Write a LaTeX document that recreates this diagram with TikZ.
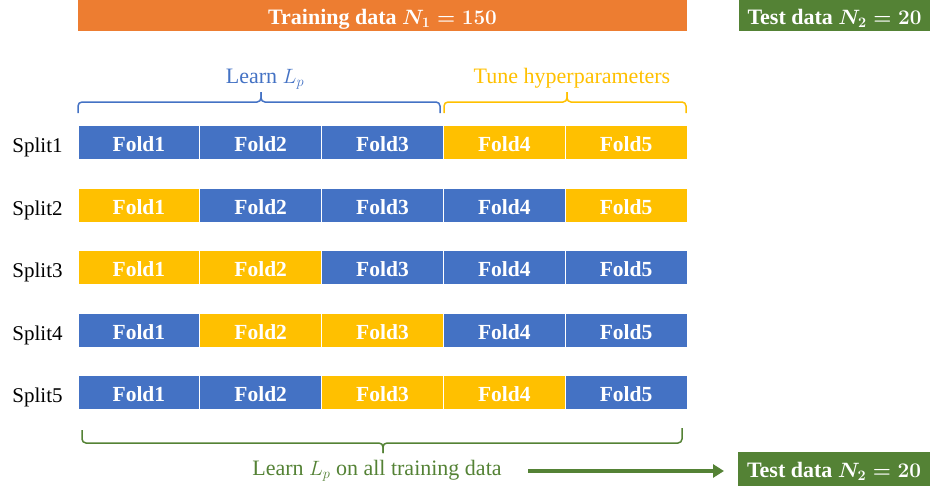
\documentclass[tikz,border=0pt]{standalone}
\usepackage{fontspec}
\setmainfont{Liberation Serif}
\usetikzlibrary{arrows.meta}
\definecolor{cO}{HTML}{ED7D31}
\definecolor{cG}{HTML}{548235}
\definecolor{cB}{HTML}{4472C4}
\definecolor{cY}{HTML}{FFC000}
\begin{document}
\begin{tikzpicture}[x=1pt,y=-1pt,
  foldbox/.style={draw=white,line width=1pt,minimum width=121.8pt,minimum height=34pt,inner sep=0pt,
    text=white,font=\bfseries\fontsize{21.5}{21.5}\selectfont,text height=19pt,text depth=0pt},
  splitlbl/.style={font=\fontsize{21}{21}\selectfont,anchor=base,inner sep=0pt},
  bar/.style={inner sep=0pt,text=white,font=\bfseries\boldmath\fontsize{22}{22}\selectfont,text height=17pt,text depth=0pt},
  lbl/.style={font=\fontsize{22}{22}\selectfont,anchor=base,inner sep=0pt},
  brc/.style={line width=1.5pt,rounded corners=4pt}]
\useasboundingbox (0,0) rectangle (930,490);

% top bars
\node[bar,fill=cO,minimum width=609pt,minimum height=31pt] (train) at (382.5,15.5) {Training data $N_1=150$};
\node[bar,fill=cG,minimum width=191pt,minimum height=31pt] (testA) at (834.5,15.5) {Test data $N_2=20$};

% brace labels
\node[lbl,text=cB] (learnlp) at (265,83) {Learn $L_p$};
\node[lbl,text=cY] (tune) at (572,83) {Tune hyperparameters};

% blue brace
\coordinate (bb1) at (78,113);
\coordinate (bbm) at (261,102);
\coordinate (bb2) at (440,113);
\draw[brc,cB] (bb1) |- (bbm) -- ++(0,-10);
\draw[brc,cB] (bbm) ++(0,-10) -- (bbm) -| (bb2);
% yellow brace
\coordinate (yb1) at (444,113);
\coordinate (ybm) at (567,102);
\coordinate (yb2) at (686,113);
\draw[brc,cY] (yb1) |- (ybm) -- ++(0,-10);
\draw[brc,cY] (ybm) ++(0,-10) -- (ybm) -| (yb2);

% folds
\foreach \r/\y/\pat in {1/142/{B,B,B,Y,Y},2/205/{Y,B,B,B,Y},3/267/{Y,Y,B,B,B},4/330/{B,Y,Y,B,B},5/392/{B,B,Y,Y,B}}{
  \node[splitlbl] (split\r) at (37.5,\y+10) {Split\r};
  \foreach \c [count=\i] in \pat {
    \node[foldbox,fill=c\c] (f\r\i) at ({78+121.8*(\i-0.5)},\y) {Fold\i};
  }
}

% bottom brace
\coordinate (gb1) at (82,430);
\coordinate (gbm) at (383,443);
\coordinate (gb2) at (682,428);
\draw[brc,cG] (gb1) |- (gbm) -- ++(0,10);
\draw[brc,cG] (gbm) ++(0,10) -- (gbm) -| (gb2);

\node[lbl,text=cG] (learnall) at (377,475) {Learn $L_p$ on all training data};
\node[bar,fill=cG,minimum width=192pt,minimum height=34pt] (testB) at (834,469) {Test data $N_2=20$};

\coordinate (a1) at (528,471);
\coordinate (a2) at (724,471);
\draw[cG,line width=4.5pt,-{Triangle[length=11pt,width=13pt]}] (a1) -- (a2);
\end{tikzpicture}
\end{document}
